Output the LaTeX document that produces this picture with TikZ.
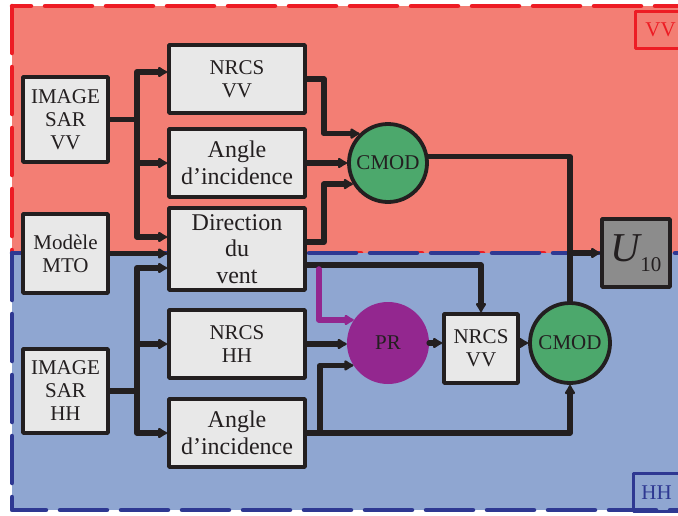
\documentclass[tikz,border=0pt]{standalone}
\usepackage{fontspec}
\setmainfont{Liberation Serif}
\usetikzlibrary{arrows.meta}
\definecolor{vvfill}{RGB}{243,126,116}
\definecolor{vvline}{RGB}{237,28,36}
\definecolor{hhfill}{RGB}{143,166,209}
\definecolor{hhline}{RGB}{46,56,146}
\definecolor{boxfill}{RGB}{232,232,232}
\definecolor{ink}{RGB}{35,31,32}
\definecolor{cmodgreen}{RGB}{76,168,108}
\definecolor{prpurple}{RGB}{147,39,143}
\definecolor{ugray}{RGB}{140,140,140}

\begin{document}
\begin{tikzpicture}[x=1pt, y=-1pt, >={Latex[round,length=11pt,width=13pt]},
    line cap=round, line join=round, font=\fontsize{21}{23}\selectfont, text=ink,
    block/.style={draw=ink, line width=3.6pt, fill=boxfill, align=center, inner sep=0pt},
    bigtext/.style={font=\fontsize{24}{26.5}\selectfont},
    disc/.style={circle, draw=ink, line width=3.8pt, inner sep=0pt},
    link/.style={draw=ink, line width=5.6pt, ->},
    zone/.style={dash pattern=on 47pt off 14pt, line width=4.5pt},
    tag/.style={anchor=north west, line width=2.8pt, text width=50pt, align=left}]
    \clip (0,0) rectangle (678,515);
    % polarisation zones
    \filldraw[zone, fill=vvfill, draw=vvline] (12,6) rectangle (720,253);
    \filldraw[zone, fill=hhfill, draw=hhline] (12,253) rectangle (720,510);
    \node[tag, draw=vvline, text=vvline, minimum height=37pt, inner xsep=10pt] (vvtag) at (634,10) {VV};
    \node[tag, draw=hhline, text=hhline, minimum height=38pt, inner xsep=8pt] (hhtag) at (632,472) {HH};
    % inputs
    \node[block, minimum width=85pt, minimum height=85pt] (imgvv) at (65.5,119.5) {IMAGE\\SAR\\VV};
    \node[block, minimum width=85pt, minimum height=79pt] (mto) at (65.5,253.5) {Modèle\\MTO};
    \node[block, minimum width=85pt, minimum height=84pt] (imghh) at (65.5,391) {IMAGE\\SAR\\HH};
    % intermediate quantities
    \node[block, minimum width=136pt, minimum height=68pt] (nrcsvv) at (237,79) {NRCS\\VV};
    \node[block, bigtext, minimum width=136pt, minimum height=68pt] (anglevv) at (237,163) {Angle\\d’incidence};
    \node[block, bigtext, minimum width=136pt, minimum height=82pt] (dir) at (237,249) {Direction\\du\\vent};
    \node[block, minimum width=136pt, minimum height=68pt] (nrcshh) at (237,344) {NRCS\\HH};
    \node[block, bigtext, minimum width=136pt, minimum height=68pt] (anglehh) at (237,433) {Angle\\d’incidence};
    % models
    \node[disc, fill=cmodgreen, minimum size=78pt] (cmodvv) at (388,163) {CMOD};
    \node[circle, fill=prpurple, inner sep=0pt, minimum size=82pt] (pr) at (388,343) {PR};
    \node[block, minimum width=74pt, minimum height=69pt] (nrcsvv2) at (481,348.5) {NRCS\\VV};
    \node[disc, fill=cmodgreen, minimum size=80pt] (cmodhh) at (570,343) {CMOD};
    \node[block, fill=ugray, minimum width=68pt, minimum height=68pt] (u10) at (636,253) {{\fontsize{41}{41}\selectfont\itshape U}\raisebox{-10pt}{10}};
    % VV branch
    \draw[link] (imgvv.east) -- ++(27,0) |- ([yshift=7pt]nrcsvv.west);
    \draw[link] (imgvv.east) -- ++(27,0) |- (anglevv.west);
    \draw[link] (imgvv.east) -- ++(27,0) |- ([yshift=12pt]dir.west);
    \draw[link] (mto.east) -- (mto.east -| dir.west);
    \draw[link] (nrcsvv.east) -- ++(17,0) |- (cmodvv.134);
    \draw[link] (anglevv.east) -- (cmodvv.west);
    \draw[link] ([yshift=7pt]dir.east) -- ++(17,0) |- (cmodvv.211);
    \draw[link, -] (cmodvv.9) -| (cmodhh.north);
    \draw[link] (cmodhh.north) |- (u10.west);
    % HH branch
    \draw[link] (imghh.east) -- ++(27,0) |- ([yshift=-19pt]dir.west);
    \draw[link] (imghh.east) -- ++(27,0) |- (nrcshh.west);
    \draw[link] (imghh.east) -- ++(27,0) |- (anglehh.west);
    \draw[link] ([yshift=-16pt]dir.east) -| (nrcsvv2.north);
    \draw[link, draw=prpurple] ([xshift=12pt,yshift=-20pt]dir.east) |- (pr.146);
    \draw[link] (nrcshh.east) -- (nrcshh.east -| pr.west);
    \draw[link] (anglehh.east) -- ++(13,0) |- (pr.213);
    \draw[link] (anglehh.east) -| (cmodhh.south);
    \draw[link] (pr.east) -- (pr.east -| nrcsvv2.west);
    \draw[link] (nrcsvv2.east |- cmodhh.west) -- (cmodhh.west);
\end{tikzpicture}
\end{document}
